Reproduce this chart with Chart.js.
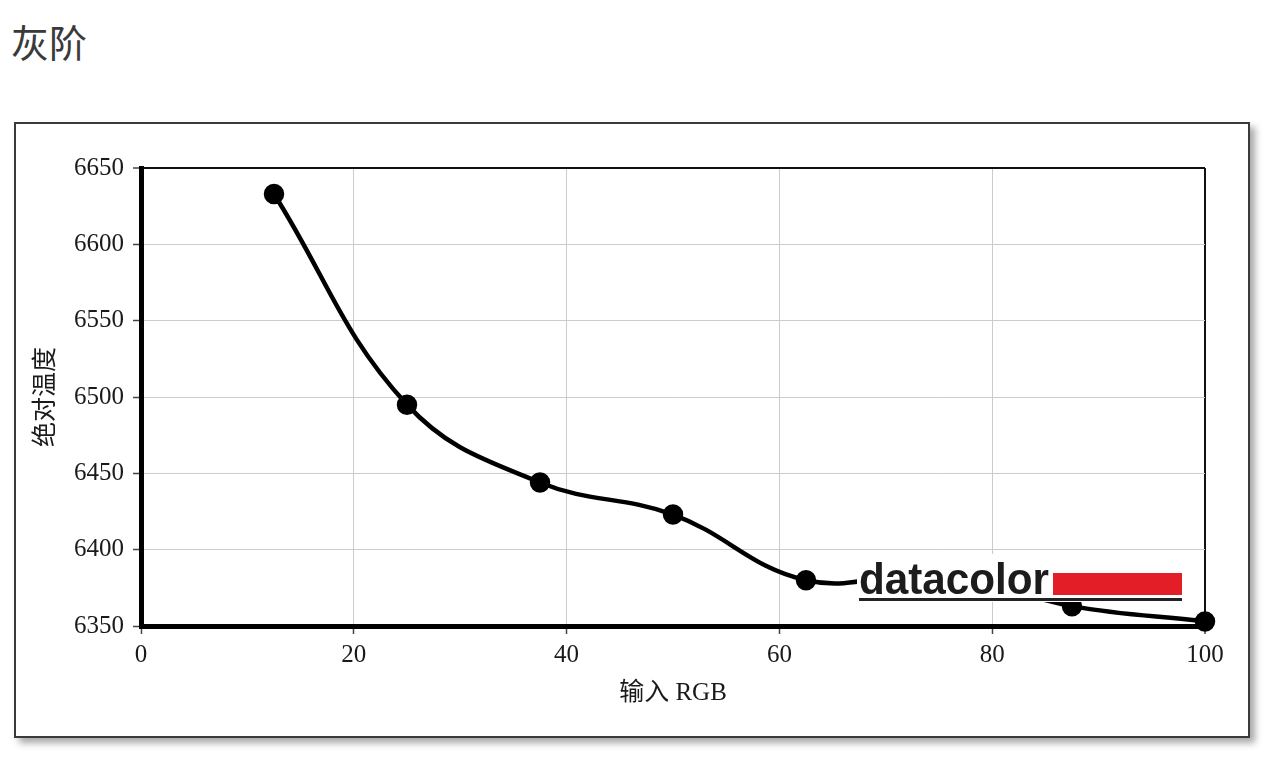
<!DOCTYPE html>
<html><head><meta charset="utf-8">
<script src="https://cdn.jsdelivr.net/npm/chart.js"></script>
<style>
html,body{margin:0;padding:0;background:#fff;width:1268px;height:757px;overflow:hidden;}
#title{position:absolute;left:11px;top:16px;font-family:"Noto Sans CJK SC";font-size:38px;color:#3a3a3a;line-height:50px;}
#frame{position:absolute;left:14px;top:122px;width:1232px;height:612px;border:2px solid #3a3a3a;box-shadow:5px 5px 7px rgba(0,0,0,0.35);background:#fff;}
#wrap{position:absolute;left:0;top:0;width:1268px;height:757px;}
</style></head><body>
<div id="title">灰阶</div>
<div id="frame"></div>
<div id="wrap"><canvas id="c" width="1268" height="757"></canvas></div>
<script>
const inputRGB = [12.5, 25, 37.5, 50, 62.5, 75, 87.5, 100];
const absTemp  = [6633, 6495, 6444, 6423, 6380, 6384, 6363, 6353];
const xTickValues = [0, 20, 40, 60, 80, 100];
const yTickValues = [6350, 6400, 6450, 6500, 6550, 6600, 6650];
const xTitle = '输入 RGB';
const yTitle = '绝对温度';
const logoText = 'datacolor';

const tickFont = {family: "'Liberation Serif'", size: 25};
const titleFont = {family: "'Liberation Serif','Noto Sans CJK SC'", size: 25, lineHeight: 1.2};

const logoPlugin = {
  id: 'logo',
  afterDatasetsDraw(chart) {
    const ctx = chart.ctx, a = chart.chartArea;
    const right = a.right - 23, bottom = a.bottom - 24;
    const left = right - 323;
    ctx.save();
    ctx.fillStyle = '#fff';
    ctx.fillRect(left - 2, bottom - 48, 327, 48);
    ctx.fillStyle = '#1c1c1c';
    ctx.font = 'bold 45px "Liberation Sans"';
    ctx.textBaseline = 'alphabetic';
    ctx.fillText(logoText, left, bottom - 8, 190);
    ctx.fillStyle = '#e31e26';
    ctx.fillRect(right - 129, bottom - 29, 129, 22);
    ctx.fillStyle = '#222';
    ctx.fillRect(left, bottom - 4, 323, 3);
    ctx.restore();
  }
};

new Chart(document.getElementById('c'), {
  type: 'line',
  data: {
    datasets: [{
      data: inputRGB.map((x, i) => ({x, y: absTemp[i]})),
      borderColor: '#000',
      backgroundColor: '#000',
      borderWidth: 4.5,
      pointRadius: 8,
      pointBackgroundColor: '#000',
      pointBorderColor: '#000',
      tension: 0.4,
      clip: false
    }]
  },
  options: {
    responsive: false,
    animation: false,
    layout: {padding: {left: 0, right: 63, top: 168, bottom: 0}},
    plugins: {legend: {display: false}, tooltip: {enabled: false}},
    scales: {
      x: {
        type: 'linear', min: 0, max: 100,
        afterBuildTicks: s => { s.ticks = xTickValues.map(v => ({value: v})); },
        grid: {
          color: c => (c.tick && c.tick.value === 100) ? '#111' : '#cccccc',
          lineWidth: c => (c.tick && c.tick.value === 100) ? 2 : 1,
          tickColor: '#444', tickLength: 8, tickWidth: 1.5
        },
        border: {display: true, color: '#000', width: 5},
        ticks: {color: '#1a1a1a', font: tickFont, padding: 6, maxRotation: 0, autoSkip: false, callback: v => String(v)},
        title: {display: true, text: xTitle, color: '#1a1a1a', font: titleFont, padding: {top: 0, bottom: 49}},
        afterFit: s => { s.height = 131; s.paddingLeft = 0; s.paddingRight = 0; }
      },
      y: {
        type: 'linear', min: 6350, max: 6650,
        afterBuildTicks: s => { s.ticks = yTickValues.map(v => ({value: v})); },
        grid: {
          color: c => (c.tick && c.tick.value === 6650) ? '#111' : '#cccccc',
          lineWidth: c => (c.tick && c.tick.value === 6650) ? 2 : 1,
          tickColor: '#444', tickLength: 8, tickWidth: 1.5
        },
        border: {display: true, color: '#000', width: 5},
        ticks: {color: '#1a1a1a', font: tickFont, padding: 9, autoSkip: false, callback: v => String(v)},
        title: {display: true, text: yTitle, color: '#1a1a1a', font: titleFont, padding: {top: 31, bottom: 0}},
        afterFit: s => { s.width = 141; s.paddingTop = 0; s.paddingBottom = 0; }
      }
    }
  },
  plugins: [logoPlugin]
});
</script>
</body></html>
